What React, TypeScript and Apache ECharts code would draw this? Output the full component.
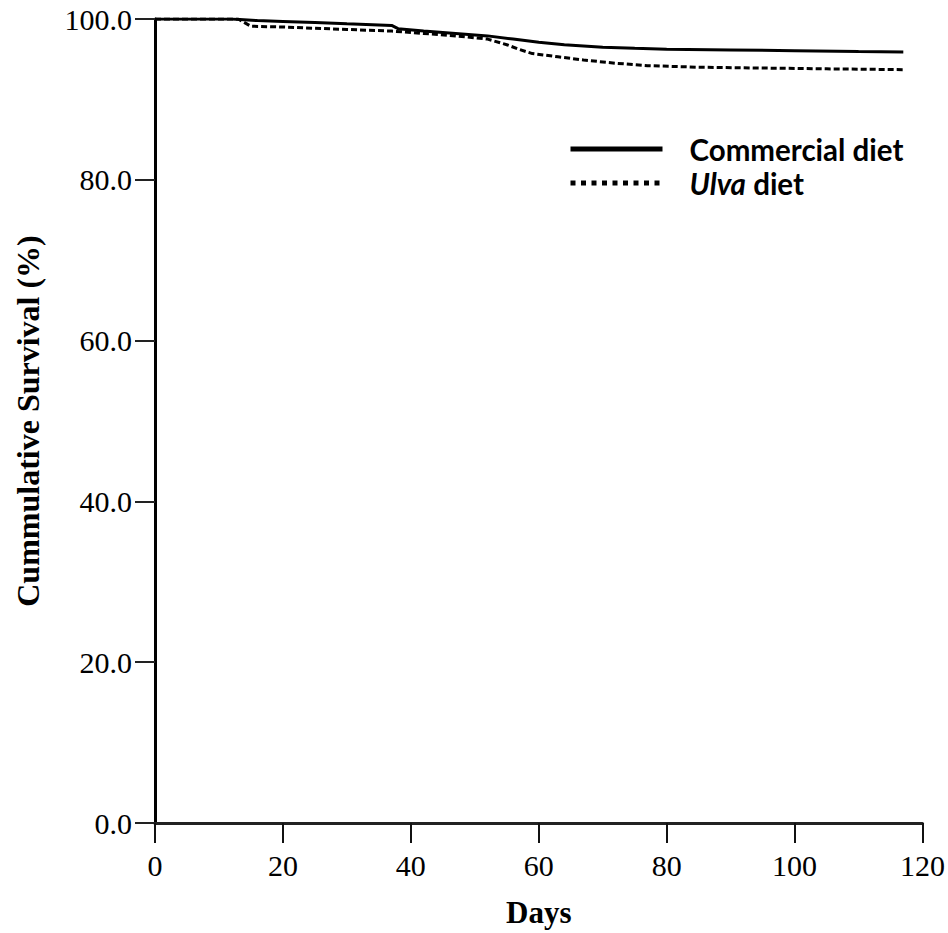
import React, { useEffect, useRef } from "react";
import * as echarts from "echarts";

const xTicks = { min: 0, max: 120, interval: 20 };
const yTicks = { min: 0, max: 100, interval: 20 };

const seriesNames = ["Commercial diet", "Ulva diet"];

const commercialDays = [0, 12, 16, 20, 25, 30, 37, 38, 42, 47, 52, 56, 60, 64, 70, 75, 80, 90, 100, 110, 117];
const commercialSurv = [100, 100, 99.8, 99.7, 99.55, 99.4, 99.2, 98.8, 98.5, 98.2, 97.9, 97.5, 97.1, 96.8, 96.5, 96.35, 96.25, 96.15, 96.05, 95.95, 95.9];

const ulvaDays = [0, 13, 15, 20, 25, 30, 37, 42, 47, 52, 55, 57, 59, 63, 67, 72, 77, 85, 95, 105, 117];
const ulvaSurv = [100, 100, 99.1, 99.0, 98.85, 98.7, 98.5, 98.2, 97.9, 97.5, 96.8, 96.2, 95.7, 95.3, 94.9, 94.5, 94.2, 94.0, 93.9, 93.8, 93.7];

const serif = "'Liberation Serif', 'Times New Roman', serif";
const sans = "Lato, 'Open Sans', sans-serif";

export default function App() {
  const ref = useRef<HTMLDivElement>(null);
  useEffect(() => {
    if (!ref.current) return;
    const chart = echarts.init(ref.current, null, { renderer: "svg" });
    const zip = (xs: number[], ys: number[]) => xs.map((x, i) => [x, ys[i]]);
    chart.setOption({
      animation: false,
      backgroundColor: "#fff",
      grid: { left: 155, right: 25, top: 19, bottom: 110, containLabel: false },
      legend: {
        orient: "vertical",
        left: 568,
        top: 134,
        padding: 0,
        itemWidth: 92,
        itemHeight: 14,
        itemGap: 4,
        itemStyle: { opacity: 0, borderWidth: 0 },
        textStyle: {
          fontFamily: sans,
          fontWeight: "bold",
          fontSize: 29.5,
          color: "#000",
          lineHeight: 30,
          padding: [0, 0, 0, 22],
          rich: {
            i: { fontFamily: sans, fontWeight: "bold", fontStyle: "italic", fontSize: 29.5, color: "#000", lineHeight: 30 },
          },
        },
        formatter: (name: string) => (name === "Ulva diet" ? "{i|Ulva} diet" : name),
        data: [
          { name: seriesNames[0], itemStyle: { opacity: 0 }, lineStyle: { width: 5, color: "#000", type: "solid" } },
          { name: seriesNames[1], itemStyle: { opacity: 0 }, lineStyle: { width: 5, color: "#000", type: [5, 5.5] } },
        ],
      },
      xAxis: {
        type: "value",
        min: xTicks.min,
        max: xTicks.max,
        interval: xTicks.interval,
        name: "Days",
        nameLocation: "middle",
        nameGap: 74,
        nameTextStyle: { fontFamily: serif, fontWeight: "bold", fontSize: 31, color: "#000" },
        axisLine: { show: true, lineStyle: { color: "#222", width: 3 } },
        axisTick: { show: true, length: 20, lineStyle: { color: "#111", width: 2 } },
        axisLabel: { fontFamily: serif, fontSize: 30, color: "#000", margin: 27 },
        splitLine: { show: false },
      },
      yAxis: {
        type: "value",
        min: yTicks.min,
        max: yTicks.max,
        interval: yTicks.interval,
        name: "Cummulative Survival (%)",
        nameLocation: "middle",
        nameGap: 111,
        nameTextStyle: { fontFamily: serif, fontWeight: "bold", fontSize: 32, color: "#000" },
        axisLine: { show: true, lineStyle: { color: "#000", width: 3 } },
        axisTick: { show: true, length: 20, lineStyle: { color: "#222", width: 2 } },
        axisLabel: {
          fontFamily: serif,
          fontSize: 30,
          color: "#000",
          margin: 23,
          formatter: (v: number) => v.toFixed(1),
        },
        splitLine: { show: false },
      },
      series: [
        {
          name: seriesNames[0],
          type: "line",
          data: zip(commercialDays, commercialSurv),
          symbol: "none",
          lineStyle: { color: "#000", width: 3, type: "solid" },
          itemStyle: { color: "#000" },
          z: 3,
        },
        {
          name: seriesNames[1],
          type: "line",
          data: zip(ulvaDays, ulvaSurv),
          symbol: "none",
          lineStyle: { color: "#000", width: 3, type: [6, 3] },
          itemStyle: { color: "#000" },
          z: 2,
        },
      ],
    });
    return () => chart.dispose();
  }, []);
  return <div ref={ref} style={{ width: 948, height: 933, position: "absolute", left: 0, top: 0 }} />;
}
